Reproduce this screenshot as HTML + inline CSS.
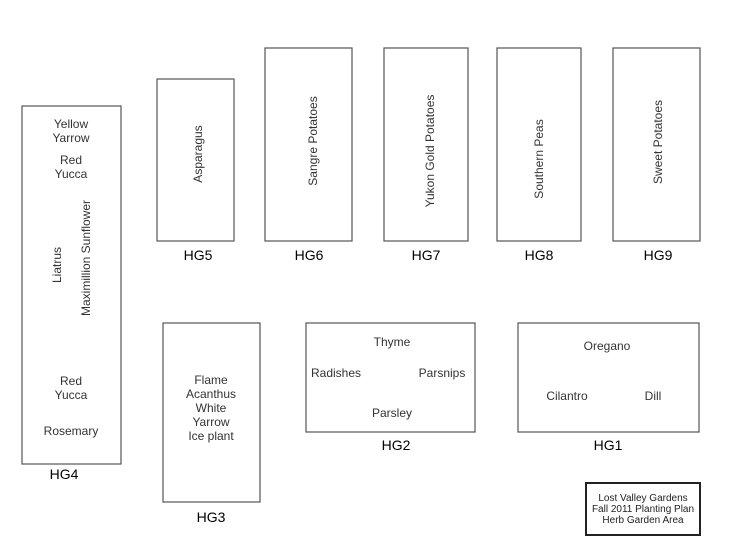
<!DOCTYPE html>
<html><head><style>body{margin:0;background:#fff}svg{display:block}</style></head><body>
<svg width="739" height="554" xmlns="http://www.w3.org/2000/svg" font-family="Liberation Sans, sans-serif">
<g fill="none" stroke="#555" stroke-width="1.2">
<rect x="22" y="106" width="99" height="358"/>
<rect x="157" y="79" width="77" height="162"/>
<rect x="265" y="48" width="87" height="193"/>
<rect x="384" y="48" width="84" height="193"/>
<rect x="497" y="48" width="84" height="193"/>
<rect x="613" y="48" width="87" height="193"/>
<rect x="163" y="323" width="97" height="179"/>
<rect x="306" y="323" width="169" height="109"/>
<rect x="518" y="323" width="181" height="109"/>
</g>
<rect x="586" y="483" width="114" height="52" fill="none" stroke="#222" stroke-width="2"/>
<g fill="#333" font-size="12" text-anchor="middle">
<text x="71" y="128">Yellow</text><text x="71" y="142">Yarrow</text>
<text x="71" y="164">Red</text><text x="71" y="178">Yucca</text>
<text x="71" y="385">Red</text><text x="71" y="399">Yucca</text>
<text x="71" y="435">Rosemary</text>
<text transform="translate(61,265) rotate(-90)">Liatrus</text>
<text transform="translate(90,258) rotate(-90)">Maximillion Sunflower</text>
<text transform="translate(202,154) rotate(-90)">Asparagus</text>
<text transform="translate(317,141) rotate(-90)">Sangre Potatoes</text>
<text transform="translate(434,151) rotate(-90)">Yukon Gold Potatoes</text>
<text transform="translate(543,159) rotate(-90)">Southern Peas</text>
<text transform="translate(662,142) rotate(-90)">Sweet Potatoes</text>
<text x="211" y="384">Flame</text><text x="211" y="398">Acanthus</text>
<text x="211" y="412">White</text><text x="211" y="426">Yarrow</text>
<text x="211" y="440">Ice plant</text>
<text x="392" y="346">Thyme</text>
<text x="336" y="377">Radishes</text>
<text x="442" y="377">Parsnips</text>
<text x="392" y="417">Parsley</text>
<text x="607" y="350">Oregano</text>
<text x="567" y="400">Cilantro</text>
<text x="653" y="400">Dill</text>
</g>
<g fill="#000" font-size="14" text-anchor="middle">
<text x="64" y="479">HG4</text>
<text x="198" y="260">HG5</text>
<text x="309" y="260">HG6</text>
<text x="426" y="260">HG7</text>
<text x="539" y="260">HG8</text>
<text x="658" y="260">HG9</text>
<text x="211" y="522">HG3</text>
<text x="396" y="450">HG2</text>
<text x="608" y="450">HG1</text>
</g>
<g fill="#222" font-size="10" text-anchor="middle">
<text x="643" y="501">Lost Valley Gardens</text>
<text x="643" y="512">Fall 2011 Planting Plan</text>
<text x="643" y="523">Herb Garden Area</text>
</g>
</svg>
</body></html>
